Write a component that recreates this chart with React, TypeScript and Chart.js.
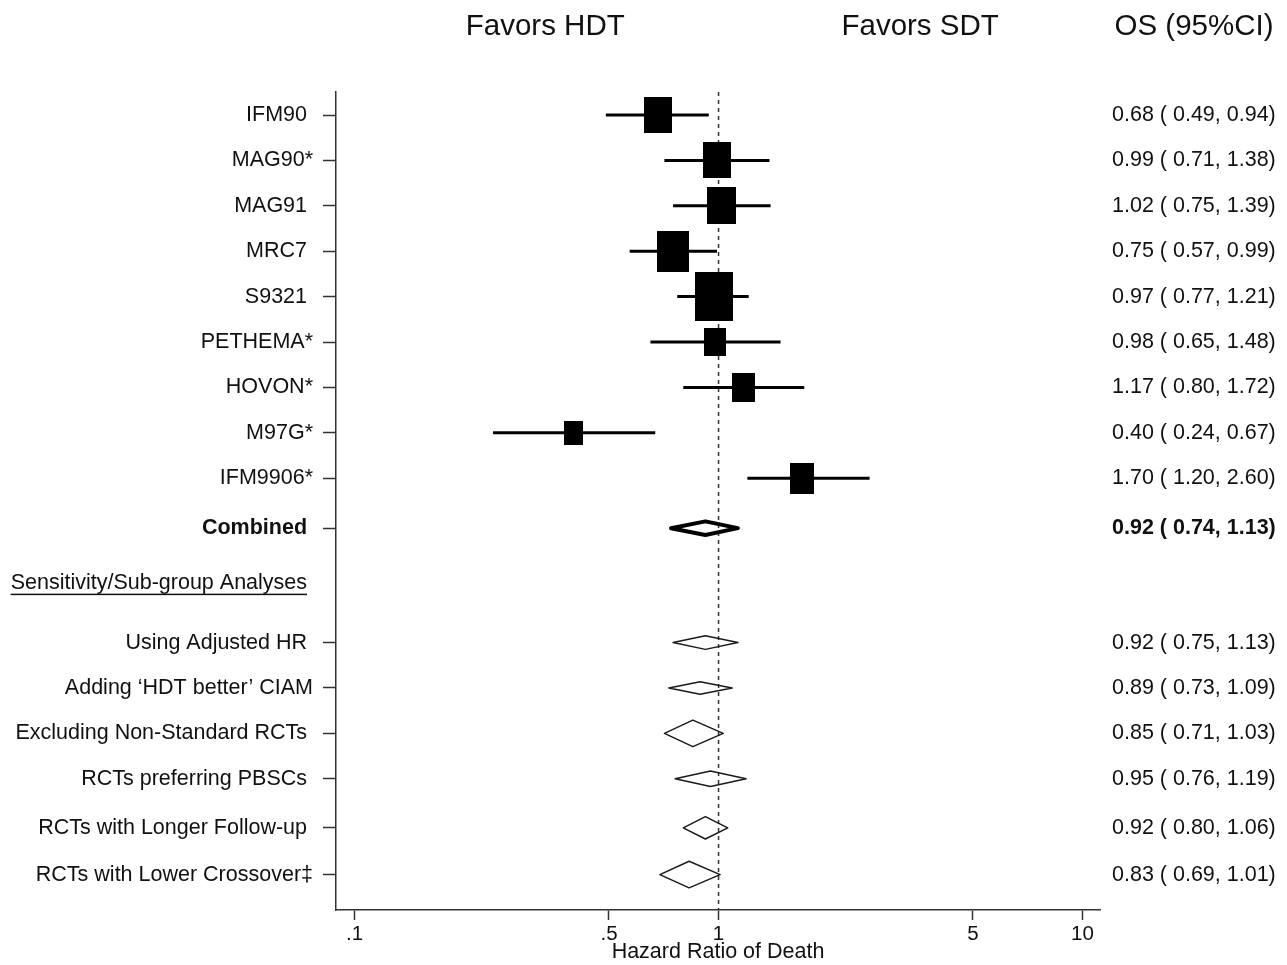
import React, { useEffect, useRef } from "react";
import { Chart, registerables } from "chart.js";

Chart.register(...registerables);

// ---------------- data ----------------
const studyLabels = ["IFM90", "MAG90*", "MAG91", "MRC7", "S9321", "PETHEMA*", "HOVON*", "M97G*", "IFM9906*"];
const studyHR = [0.68, 0.99, 1.02, 0.75, 0.97, 0.98, 1.17, 0.4, 1.7];
const studyLo = [0.49, 0.71, 0.75, 0.57, 0.77, 0.65, 0.8, 0.24, 1.2];
const studyHi = [0.94, 1.38, 1.39, 0.99, 1.21, 1.48, 1.72, 0.67, 2.6];
const studyWeight = [11.4, 11.1, 12.6, 15.3, 21.1, 7.3, 7.9, 5.2, 8.2];

const combinedLabel = "Combined";
const combinedHR = 0.92;
const combinedLo = 0.74;
const combinedHi = 1.13;

const headerLabel = "Sensitivity/Sub-group Analyses";

const subLabels = [
  "Using Adjusted HR",
  "Adding \u2018HDT better\u2019 CIAM",
  "Excluding Non-Standard RCTs",
  "RCTs preferring PBSCs",
  "RCTs with Longer Follow-up",
  "RCTs with Lower Crossover\u2021",
];
const subHR = [0.92, 0.89, 0.85, 0.95, 0.92, 0.83];
const subLo = [0.75, 0.73, 0.71, 0.76, 0.8, 0.69];
const subHi = [1.13, 1.09, 1.03, 1.19, 1.06, 1.01];
const subRelSize = [0.97, 0.9, 1.9, 1.1, 1.6, 1.9];

const xTicks = [0.1, 0.5, 1, 5, 10];
const xTickLabels = [".1", ".5", "1", "5", "10"];

const xTitle = "Hazard Ratio of Death";
const leftHeading = "Favors HDT";
const rightHeading = "Favors SDT";
const colHeading = "OS (95%CI)";

// ---------------- layout ----------------
const W = 1287;
const H = 965;
const PLOT_LEFT = 336;
const PLOT_RIGHT = 1100;
const PLOT_TOP = 92;
const PLOT_BOTTOM = 910;
const X_MIN = 0.0889;
const X_MAX = 11.17;
const Y_MIN = 0.4934;
const Y_MAX = 18.51;
const studyRows = [1, 2, 3, 4, 5, 6, 7, 8, 9];
const combinedRow = 10.1;
const headerRow = 11.3;
const subRows = [12.62, 13.62, 14.62, 15.62, 16.7, 17.73];

const FONT = '"Liberation Sans", Arial, Helvetica, sans-serif';
const TEXT = "#111111";
const AXIS = "#333333";
const LABEL_SIZE = 21.5;
const Y_TICK_LEN = 13;
const Y_TICK_PAD = 10;

const fmt = (hr: number, lo: number, hi: number) =>
  `${hr.toFixed(2)} ( ${lo.toFixed(2)}, ${hi.toFixed(2)})`;

const pad = (s: string) => (/[*\u2021M]$/.test(s) ? s : s + " ");

const yRows = [...studyRows, combinedRow, headerRow, ...subRows];
const yLabels = [
  ...studyLabels.map(pad),
  pad(combinedLabel),
  headerLabel + " ",
  ...subLabels.map(pad),
];
const osLabels = [
  ...studyHR.map((v, i) => fmt(v, studyLo[i], studyHi[i])),
  fmt(combinedHR, combinedLo, combinedHi),
  "",
  ...subHR.map((v, i) => fmt(v, subLo[i], subHi[i])),
];
const combinedIdx = studyRows.length;
const headerIdx = studyRows.length + 1;

export default function App() {
  const ref = useRef<HTMLCanvasElement | null>(null);

  useEffect(() => {
    if (!ref.current) return;
    const rowPx = (PLOT_BOTTOM - PLOT_TOP) / (Y_MAX - Y_MIN);

    // study boxes (area proportional to weight)
    const boxes = studyWeight.map((w) => {
      const bw = Math.round(Math.sqrt(w) * 8.27);
      const bh = Math.round(bw * 1.28);
      const c = document.createElement("canvas");
      c.width = bw;
      c.height = bh;
      const cx = c.getContext("2d")!;
      cx.fillStyle = "#000";
      cx.fillRect(0, 0, bw, bh);
      return c;
    });

    const diamond = (hr: number, lo: number, hi: number, row: number, halfPx: number) => {
      const dh = halfPx / rowPx;
      return [
        { x: lo, y: row },
        { x: hr, y: row - dh },
        { x: hi, y: row },
        { x: hr, y: row + dh },
        { x: lo, y: row },
        { x: hr, y: row - dh },
      ];
    };

    const datasets: any[] = [];
    datasets.push({
      data: [
        { x: 1, y: Y_MIN },
        { x: 1, y: Y_MAX },
      ],
      showLine: true,
      borderColor: AXIS,
      borderWidth: 1.5,
      borderDash: [4, 4],
      pointRadius: 0,
      order: 5,
    });
    studyRows.forEach((r, i) => {
      datasets.push({
        data: [
          { x: studyLo[i], y: r },
          { x: studyHi[i], y: r },
        ],
        showLine: true,
        borderColor: "#000",
        borderWidth: 3,
        pointRadius: 0,
        order: 2,
      });
    });
    datasets.push({
      data: studyRows.map((r, i) => ({ x: studyHR[i], y: r })),
      showLine: false,
      pointStyle: (c: any) => boxes[c.dataIndex],
      pointRadius: 5,
      order: 0,
    });
    datasets.push({
      data: diamond(combinedHR, combinedLo, combinedHi, combinedRow, 6.8),
      showLine: true,
      borderColor: "#000",
      borderWidth: 4,
      borderJoinStyle: "round",
      pointRadius: 0,
      fill: false,
      order: 1,
    });
    subRows.forEach((r, i) => {
      datasets.push({
        data: diamond(subHR[i], subLo[i], subHi[i], r, 7 * subRelSize[i]),
        showLine: true,
        borderColor: "#1a1a1a",
        borderWidth: 1.5,
        borderJoinStyle: "round",
        pointRadius: 0,
        fill: false,
        order: 1,
      });
    });

    const textPlugin = {
      id: "forestText",
      afterDraw(chart: any) {
        const ctx = chart.ctx;
        const xs = chart.scales.x;
        const ys = chart.scales.y;
        const y2 = chart.scales.y2;
        ctx.save();
        ctx.fillStyle = TEXT;
        ctx.font = `29.5px ${FONT}`;
        ctx.textAlign = "center";
        ctx.textBaseline = "alphabetic";
        ctx.fillText(leftHeading, xs.getPixelForValue(0.334), 35);
        ctx.fillText(rightHeading, xs.getPixelForValue(3.58), 35);
        ctx.fillText(colHeading, y2.left + 94, 35);
        // underline of the sub-group heading
        ctx.font = `${LABEL_SIZE}px ${FONT}`;
        const tw = ctx.measureText(headerLabel).width;
        const sw = ctx.measureText(" ").width;
        const right = ys.right - Y_TICK_LEN - Y_TICK_PAD - sw;
        const py = ys.getPixelForValue(headerRow) + 11;
        ctx.fillRect(right - tw, py, tw, 1.5);
        ctx.restore();
      },
    };

    const chart = new Chart(ref.current, {
      type: "scatter",
      data: { datasets },
      plugins: [textPlugin],
      options: {
        responsive: false,
        animation: false,
        events: [],
        devicePixelRatio: 1,
        layout: { padding: { top: PLOT_TOP, left: 0, right: 0, bottom: 0 } },
        plugins: { legend: { display: false }, tooltip: { enabled: false } },
        scales: {
          x: {
            type: "logarithmic",
            min: X_MIN,
            max: X_MAX,
            bounds: "data",
            afterBuildTicks: (s: any) => {
              s.ticks = xTicks.map((v) => ({ value: v }));
            },
            afterFit: (s: any) => {
              s.height = H - PLOT_BOTTOM;
            },
            ticks: {
              autoSkip: false,
              maxRotation: 0,
              padding: 2,
              color: TEXT,
              font: { family: FONT, size: 20.5 },
              callback: (_v: any, i: number) => xTickLabels[i],
            },
            grid: {
              drawOnChartArea: false,
              drawTicks: true,
              tickLength: 10,
              tickWidth: 1.5,
              tickColor: AXIS,
            },
            border: { color: AXIS, width: 1.5 },
            title: {
              display: true,
              text: xTitle,
              color: TEXT,
              font: { family: FONT, size: LABEL_SIZE },
              padding: { top: 0, bottom: 0 },
            },
          },
          y: {
            type: "linear",
            position: "left",
            reverse: true,
            min: Y_MIN,
            max: Y_MAX,
            bounds: "data",
            afterBuildTicks: (s: any) => {
              s.ticks = yRows.map((v) => ({ value: v }));
            },
            afterFit: (s: any) => {
              s.width = PLOT_LEFT;
            },
            ticks: {
              autoSkip: false,
              padding: Y_TICK_PAD,
              color: TEXT,
              font: (c: any) => ({
                family: FONT,
                size: LABEL_SIZE,
                weight: c.index === combinedIdx ? "bold" : "normal",
              }),
              callback: (_v: any, i: number) => yLabels[i],
            },
            grid: {
              drawOnChartArea: false,
              drawTicks: true,
              tickLength: Y_TICK_LEN,
              tickWidth: 1.5,
              tickColor: (c: any) => (c.index === headerIdx ? "rgba(0,0,0,0)" : AXIS),
            },
            border: { color: AXIS, width: 1.5 },
          },
          y2: {
            type: "linear",
            position: "right",
            reverse: true,
            min: Y_MIN,
            max: Y_MAX,
            bounds: "data",
            afterBuildTicks: (s: any) => {
              s.ticks = yRows.map((v) => ({ value: v }));
            },
            afterFit: (s: any) => {
              s.width = W - PLOT_RIGHT;
            },
            ticks: {
              autoSkip: false,
              padding: 12,
              color: TEXT,
              font: (c: any) => ({
                family: FONT,
                size: LABEL_SIZE,
                weight: c.index === combinedIdx ? "bold" : "normal",
              }),
              callback: (_v: any, i: number) => osLabels[i],
            },
            grid: { drawOnChartArea: false, drawTicks: false },
            border: { display: false },
          },
        },
      },
    } as any);
    return () => chart.destroy();
  }, []);

  return (
    <div style={{ position: "fixed", left: 0, top: 0, width: W, height: H, background: "#fff" }}>
      <canvas ref={ref} width={W} height={H} style={{ width: W, height: H, display: "block" }} />
    </div>
  );
}
